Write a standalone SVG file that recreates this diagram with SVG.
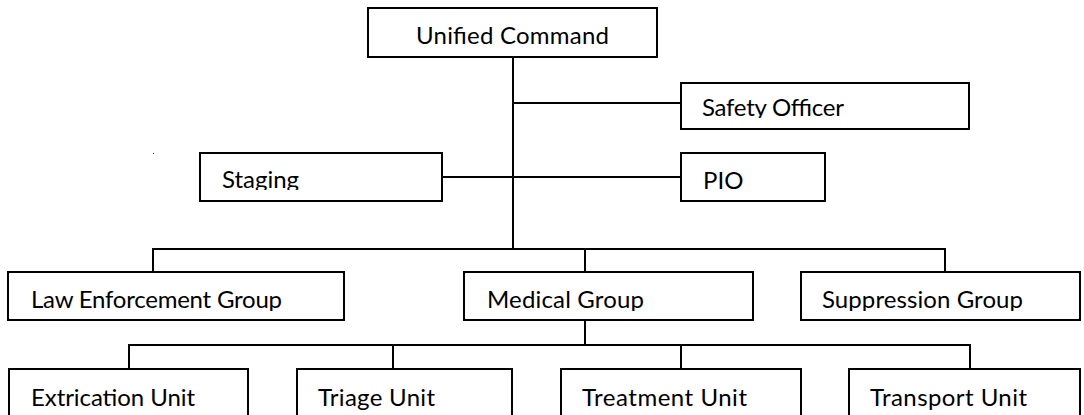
<svg xmlns="http://www.w3.org/2000/svg" width="1084" height="415" viewBox="0 0 1084 415">
<style>
.box{fill:#fff;stroke:#000;stroke-width:2}
.lbl{font-family:Lato,"Open Sans","Liberation Sans",sans-serif;font-size:24px;fill:#000}
.con{stroke:#000;stroke-width:2;fill:none}
</style>
<defs>
<clipPath id="cSafety"><rect x="682" y="84" width="286" height="34"/></clipPath>
<clipPath id="cStaging"><rect x="201" y="154" width="240" height="36"/></clipPath>
<clipPath id="cPIO"><rect x="682" y="154" width="142" height="36"/></clipPath>
<clipPath id="cLEG"><rect x="9" y="273" width="334" height="38"/></clipPath>
<clipPath id="cMed"><rect x="465" y="273" width="287" height="38"/></clipPath>
<clipPath id="cSup"><rect x="802" y="273" width="277" height="38"/></clipPath>
<clipPath id="cBot"><rect x="0" y="370" width="1084" height="43"/></clipPath>
</defs>
<rect width="1084" height="415" fill="#fff"/>
<g id="connectors">
<path class="con" d="M513 57V249M513 103H681M442 177H681M153 272V249H945V272M585 249V272M585 320V345M129 369V345H970V369M393 345V369M681 345V369"/>
</g>
<rect x="153" y="153" width="1" height="1" fill="#444"/>
<g id="unified-command">
<rect class="box" x="368" y="8" width="289" height="49"/>
<text class="lbl" x="512.5" y="44" text-anchor="middle" textLength="193">Unified Command</text>
</g>
<g id="safety-officer">
<rect class="box" x="681" y="83" width="288" height="46"/>
<text class="lbl" x="702" y="116" textLength="142" clip-path="url(#cSafety)">Safety Officer</text>
</g>
<g id="staging">
<rect class="box" x="200" y="153" width="242" height="48"/>
<text class="lbl" x="222" y="188" textLength="77" clip-path="url(#cStaging)">Staging</text>
</g>
<g id="pio">
<rect class="box" x="681" y="153" width="144" height="48"/>
<text class="lbl" x="703" y="189" clip-path="url(#cPIO)">PIO</text>
</g>
<g id="law-enforcement-group">
<rect class="box" x="8" y="272" width="336" height="48"/>
<text class="lbl" x="31" y="308" textLength="251" clip-path="url(#cLEG)">Law Enforcement Group</text>
</g>
<g id="medical-group">
<rect class="box" x="464" y="272" width="289" height="48"/>
<text class="lbl" x="487" y="308" textLength="157" clip-path="url(#cMed)">Medical Group</text>
</g>
<g id="suppression-group">
<rect class="box" x="801" y="272" width="279" height="48"/>
<text class="lbl" x="822" y="308" textLength="201" clip-path="url(#cSup)">Suppression Group</text>
</g>
<g id="extrication-unit">
<rect class="box" x="9" y="369" width="239" height="60"/>
<text class="lbl" x="31" y="406" textLength="164" clip-path="url(#cBot)">Extrication Unit</text>
</g>
<g id="triage-unit">
<rect class="box" x="297" y="369" width="215" height="60"/>
<text class="lbl" x="318" y="406" textLength="117" clip-path="url(#cBot)">Triage Unit</text>
</g>
<g id="treatment-unit">
<rect class="box" x="561" y="369" width="240" height="60"/>
<text class="lbl" x="582" y="406" textLength="165" clip-path="url(#cBot)">Treatment Unit</text>
</g>
<g id="transport-unit">
<rect class="box" x="849" y="369" width="231" height="60"/>
<text class="lbl" x="870" y="406" textLength="157" clip-path="url(#cBot)">Transport Unit</text>
</g>
</svg>
